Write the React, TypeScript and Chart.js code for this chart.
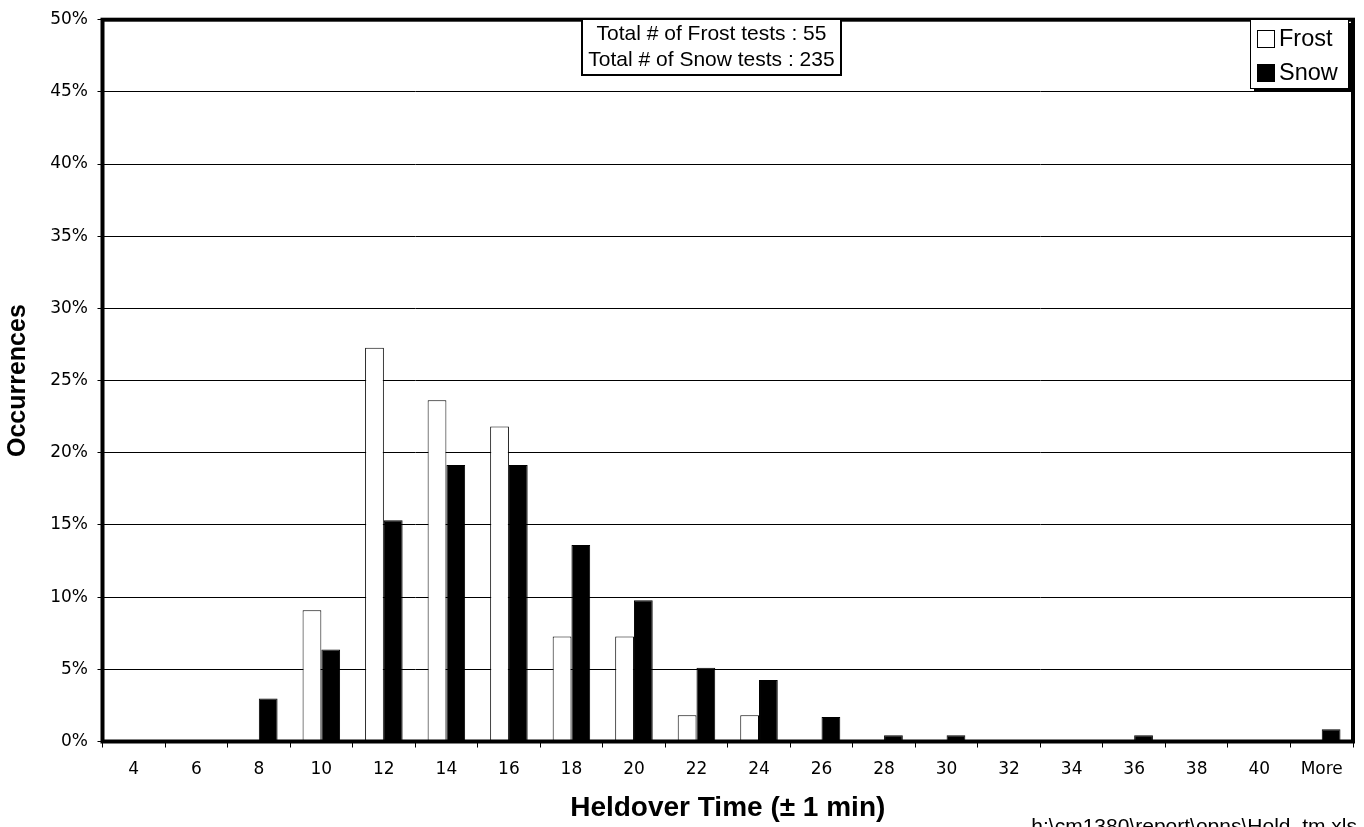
import React, { useEffect, useRef } from "react";
import { Chart, registerables } from "chart.js";

Chart.register(...registerables);

// Holdover time bins (minutes, ±1 min) and share of tests per bin (%)
const categories = ["4", "6", "8", "10", "12", "14", "16", "18", "20", "22", "24", "26", "28", "30", "32", "34", "36", "38", "40", "More"];
const frostPct = [0, 0, 0, 9.09, 27.27, 23.64, 21.82, 7.27, 7.27, 1.82, 1.82, 0, 0, 0, 0, 0, 0, 0, 0, 0];
const snowPct = [0, 0, 2.98, 6.38, 15.32, 19.15, 19.15, 13.62, 9.79, 5.11, 4.26, 1.7, 0.43, 0.43, 0, 0, 0.43, 0, 0, 0.85];
const yTicks = [0, 5, 10, 15, 20, 25, 30, 35, 40, 45, 50];

const totalFrost = 55;
const totalSnow = 235;
const footerText = "h:\\cm1380\\report\\opns\\Hold_tm.xls";

const SANS = "Arial, 'Liberation Sans', sans-serif";
const TICK_FONT = "'DejaVu Sans', Verdana, sans-serif";

const overlayPlugin = {
  id: "overlay",
  afterDatasetsDraw(chart: any) {
    const { ctx, chartArea } = chart;
    const { left, top, right, bottom } = chartArea;
    ctx.save();
    ctx.strokeStyle = "#000";
    ctx.lineWidth = 4;
    ctx.strokeRect(left, top, right - left, bottom - top);
    ctx.restore();
  },
  afterDraw(chart: any) {
    const { ctx } = chart;
    ctx.save();

    // totals box
    const bx = 582, by = 19, bw = 259, bh = 56;
    ctx.fillStyle = "#fff";
    ctx.fillRect(bx, by, bw, bh);
    ctx.strokeStyle = "#000";
    ctx.lineWidth = 2;
    ctx.strokeRect(bx, by, bw, bh);
    ctx.fillStyle = "#000";
    ctx.font = `21px ${SANS}`;
    ctx.textAlign = "center";
    ctx.textBaseline = "middle";
    ctx.fillText(`Total # of Frost tests : ${totalFrost}`, bx + bw / 2, 34);
    ctx.fillText(`Total # of Snow tests : ${totalSnow}`, bx + bw / 2, 60);

    // legend with drop shadow
    const lx = 1250, ly = 19, lw = 98, lh = 69;
    ctx.fillStyle = "#000";
    ctx.fillRect(lx + 4, ly + 4, lw, lh);
    ctx.fillStyle = "#fff";
    ctx.fillRect(lx, ly, lw, lh);
    ctx.strokeStyle = "#000";
    ctx.lineWidth = 1;
    ctx.strokeRect(lx + 0.5, ly + 0.5, lw, lh);

    const ds = chart.data.datasets;
    const rows = [39, 73];
    ds.forEach((d: any, i: number) => {
      const cy = rows[i];
      ctx.fillStyle = d.backgroundColor;
      ctx.fillRect(1257.5, cy - 8.5, 17, 17);
      ctx.strokeStyle = "#000";
      ctx.lineWidth = 1;
      ctx.strokeRect(1257.5, cy - 8.5, 17, 17);
      ctx.fillStyle = "#000";
      ctx.font = `23.5px ${SANS}`;
      ctx.textAlign = "left";
      ctx.textBaseline = "middle";
      ctx.fillText(d.label, 1279, cy + 1);
    });

    // source file note
    ctx.fillStyle = "#000";
    ctx.font = `21px ${SANS}`;
    ctx.textAlign = "right";
    ctx.textBaseline = "alphabetic";
    ctx.fillText(footerText, 1357, 833);

    ctx.restore();
  },
};

export default function App() {
  const canvasRef = useRef<HTMLCanvasElement | null>(null);

  useEffect(() => {
    if (!canvasRef.current) return;
    const chart = new Chart(canvasRef.current, {
      type: "bar",
      data: {
        labels: categories,
        datasets: [
          {
            label: "Frost",
            data: frostPct,
            backgroundColor: "#fff",
            borderColor: "#000",
            borderWidth: 1,
            categoryPercentage: 0.6,
            barPercentage: 1,
          },
          {
            label: "Snow",
            data: snowPct,
            backgroundColor: "#000",
            borderColor: "#000",
            borderWidth: 1,
            categoryPercentage: 0.6,
            barPercentage: 1,
          },
        ],
      },
      options: {
        responsive: false,
        animation: false,
        events: [],
        layout: { padding: { left: 0, top: 15.5, right: 11, bottom: 0 } },
        plugins: {
          legend: { display: false },
          tooltip: { enabled: false },
        },
        scales: {
          x: {
            offset: true,
            border: { display: false },
            grid: {
              display: true,
              offset: true,
              drawOnChartArea: false,
              drawTicks: true,
              tickLength: 6,
              color: "#000",
              lineWidth: 1,
            },
            ticks: {
              font: { family: TICK_FONT, size: 17 },
              color: "#000",
              padding: 12,
              maxRotation: 0,
              autoSkip: false,
            },
            title: {
              display: true,
              text: "Heldover Time (\u00b1 1 min)",
              font: { family: SANS, size: 28, weight: "bold" },
              color: "#000",
              padding: { top: 0, bottom: 2 },
            },
            afterFit: (s: any) => {
              s.height = 85.5;
            },
          },
          y: {
            min: 0,
            max: 50,
            border: { display: false },
            afterBuildTicks: (s: any) => {
              s.ticks = yTicks.map((v) => ({ value: v }));
            },
            grid: {
              color: "#000",
              lineWidth: 1,
              drawTicks: true,
              tickLength: 5,
            },
            ticks: {
              callback: (v: any) => `${v}%`,
              font: { family: TICK_FONT, size: 17 },
              color: "#000",
              padding: 9.5,
            },
            title: {
              display: true,
              text: "Occurrences",
              font: { family: SANS, size: 25, weight: "bold" },
              color: "#000",
              padding: { top: 3, bottom: 0 },
            },
            afterFit: (s: any) => {
              s.width = 102.5;
            },
          },
        },
      },
      plugins: [overlayPlugin],
    });
    return () => chart.destroy();
  }, []);

  return (
    <div style={{ position: "absolute", left: 0, top: 0, width: 1364, height: 827, background: "#fff", overflow: "hidden" }}>
      <canvas ref={canvasRef} width={1364} height={827} style={{ display: "block", width: 1364, height: 827 }} />
    </div>
  );
}
